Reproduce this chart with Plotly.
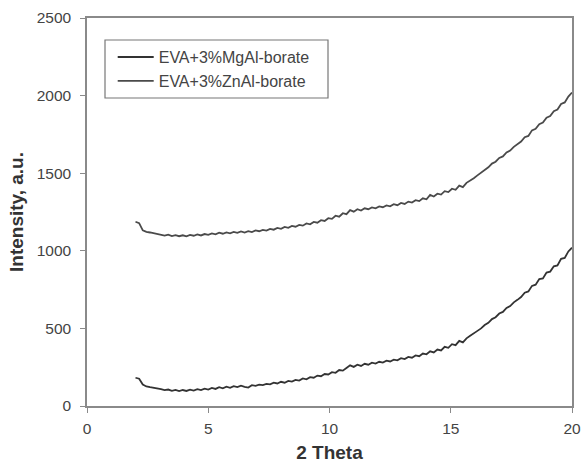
import numpy as np
import plotly.graph_objects as go

# 2-theta sampling grid (2.00 .. 20.00, step 0.15)
two_theta = np.round(np.linspace(2.0, 20.0, 121), 2)

mgal_borate = [
    182, 176, 138, 126, 121, 118, 114, 108, 102, 106,
    98, 104, 96, 103, 97, 105, 99, 108, 102, 112,
    106, 116, 110, 121, 114, 124, 117, 128, 122, 131,
    124, 119, 134, 130, 138, 135, 142, 139, 150, 145,
    156, 150, 162, 157, 168, 164, 178, 172, 186, 182,
    196, 192, 206, 203, 218, 214, 232, 228, 245, 262,
    252, 266, 258, 272, 266, 279, 273, 285, 280, 292,
    287, 299, 294, 308, 302, 316, 311, 326, 321, 338,
    333, 352, 345, 364, 358, 381, 375, 398, 392, 420,
    410, 436, 452, 466, 484, 500, 522, 536, 560, 572,
    596, 606, 632, 644, 668, 684, 702, 730, 738, 774,
    782, 818, 822, 860, 866, 900, 906, 948, 954, 996,
    1020,
]

znal_borate = [
    1187, 1178, 1132, 1122, 1118, 1112, 1108, 1103, 1098, 1104,
    1095, 1101, 1094, 1100, 1093, 1102, 1097, 1105, 1099, 1108,
    1103, 1112, 1106, 1117, 1110, 1119, 1113, 1122, 1116, 1125,
    1118, 1127, 1121, 1131, 1126, 1135, 1130, 1141, 1136, 1147,
    1142, 1154, 1148, 1160, 1155, 1167, 1162, 1176, 1171, 1186,
    1181, 1197, 1192, 1210, 1206, 1226, 1220, 1242, 1236, 1262,
    1252, 1268, 1259, 1274, 1268, 1280, 1274, 1286, 1281, 1292,
    1287, 1300, 1294, 1308, 1302, 1317, 1311, 1326, 1320, 1338,
    1332, 1360, 1350, 1368, 1362, 1384, 1378, 1400, 1393, 1420,
    1410, 1438, 1452, 1468, 1486, 1502, 1522, 1538, 1562, 1574,
    1598, 1608, 1634, 1646, 1670, 1688, 1704, 1732, 1740, 1776,
    1786, 1816, 1826, 1858, 1868, 1900, 1910, 1946, 1956, 1994,
    2020,
]

series_names = ["EVA+3%MgAl-borate", "EVA+3%ZnAl-borate"]
x_ticks = [0, 5, 10, 15, 20]
y_ticks = [0, 500, 1000, 1500, 2000, 2500]

FONT = "Liberation Sans, Arial, sans-serif"

fig = go.Figure()
fig.add_trace(go.Scatter(x=two_theta, y=mgal_borate, mode="lines",
                         name=series_names[0], legendgroup="a",
                         line=dict(color="#333333", width=1.8)))
fig.add_trace(go.Scatter(x=two_theta, y=znal_borate, mode="lines",
                         name=series_names[1], legendgroup="b",
                         line=dict(color="#4a4a4a", width=1.8)))

axis_common = dict(
    showline=True, linecolor="#8a8a8a", linewidth=1.5, mirror=True,
    ticks="outside", tickcolor="#8a8a8a", ticklen=5, tickwidth=1.2,
    showgrid=False, zeroline=False, automargin=False,
    tickfont=dict(family=FONT, size=15.5, color="#444444"),
)

fig.update_xaxes(range=[0, 20], tickvals=x_ticks, ticklabelstandoff=3,
                 title=dict(text="<b>2 Theta</b>", standoff=24,
                            font=dict(family=FONT, size=19, color="#333333")),
                 **axis_common)
fig.update_yaxes(range=[0, 2500], tickvals=y_ticks, ticklabelstandoff=6,
                 title=dict(text="<b>Intensity, a.u.</b>", standoff=8,
                            font=dict(family=FONT, size=19, color="#333333")),
                 **axis_common)

fig.update_layout(
    width=582, height=463,
    margin=dict(l=87, r=10, t=18, b=57),
    paper_bgcolor="white", plot_bgcolor="white",
    showlegend=True,
    legend=dict(x=0.053, y=0.943, xanchor="left", yanchor="top",
                borderwidth=0, bgcolor="rgba(0,0,0,0)",
                font=dict(family=FONT, size=16, color="#444444"),
                traceorder="grouped", tracegroupgap=0, itemwidth=36),
    shapes=[dict(type="rect", xref="paper", yref="paper",
                 x0=(105 - 87) / 485, x1=(328 - 87) / 485,
                 y0=(406 - 98) / 388, y1=(406 - 40) / 388,
                 line=dict(color="#777777", width=1.2),
                 fillcolor="rgba(0,0,0,0)")],
)

# remove the browser's default 8 px page margin so the figure fills the window
fig.write_html("out.html",
               config={"displayModeBar": False},
               post_script="document.body.style.margin='0';"
                           "document.body.style.overflow='hidden';")
